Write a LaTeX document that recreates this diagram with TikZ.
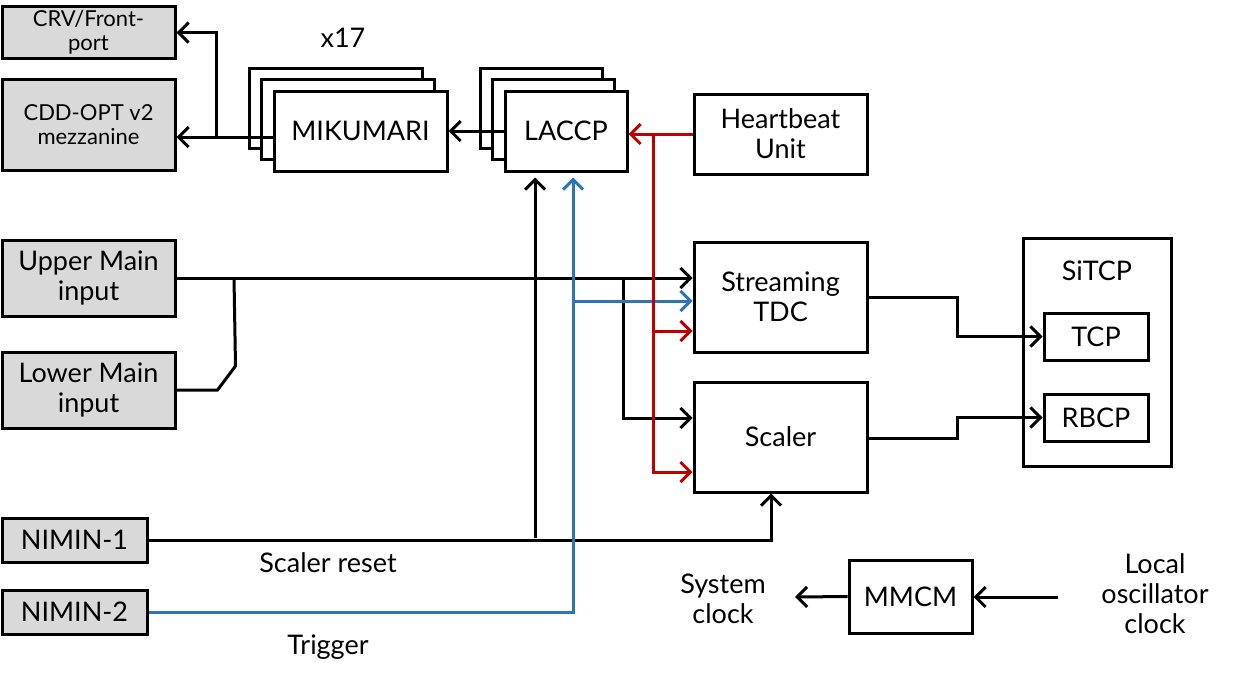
\documentclass[tikz,border=0pt]{standalone}
\usepackage{fontspec}
\setmainfont{Lato}
\usepackage{tikz}
\usetikzlibrary{positioning,arrows.meta,shadows}
\definecolor{inbg}{HTML}{D9D9D9}
\definecolor{hbred}{HTML}{C00000}
\definecolor{trgblue}{HTML}{2E75B6}

\begin{document}
\begin{tikzpicture}[x=0.5pt,y=-0.5pt,
      font=\fontsize{13.5}{15}\selectfont,
      blk/.style={draw,line width=1.5pt,fill=white,align=center,inner sep=2pt},
      io/.style={blk,fill=inbg},
      stack/.style={blk,double copy shadow={shadow xshift=-6.25pt,shadow yshift=5.75pt,fill=white,draw=black,line width=1.5pt}},
      smalltxt/.style={font=\fontsize{11}{12}\selectfont},
      line/.style={line width=1.5pt},
      arr/.style={-{Straight Barb[length=5pt,width=10pt]},line width=1.5pt}
    ]
      \useasboundingbox (0,0) rectangle (1246,681);

      \node[io,smalltxt,minimum width=86.5pt,minimum height=25.5pt] (crv) at (88.5,32.5) {CRV/Front-\\port};
      \node[io,smalltxt,minimum width=86.5pt,minimum height=45.5pt] (cdd) at (88.5,124.5) {CDD-OPT v2\\mezzanine};
      \node[stack,minimum width=86.5pt,minimum height=40pt] (miku) at (360.5,131) {MIKUMARI};
      \node (mult) at (343,38) {x17};
      \node[stack,minimum width=61pt,minimum height=40pt] (laccp) at (566,131) {LACCP};
      \node[blk,minimum width=86.5pt,minimum height=40pt] (hb) at (780.5,134) {Heartbeat\\Unit};
      \node[blk,minimum width=86.5pt,minimum height=55pt] (tdc) at (780.5,297) {Streaming\\TDC};
      \node[blk,minimum width=86.5pt,minimum height=55pt] (scaler) at (780.5,437) {Scaler};
      \node[blk,minimum width=74pt,minimum height=114pt] (sitcp) at (1097,352) {};
      \node (sitcplbl) at (1097,271) {SiTCP};
      \node[blk,minimum width=52pt,minimum height=23.5pt] (tcp) at (1096,336.5) {TCP};
      \node[blk,minimum width=52pt,minimum height=23.5pt] (rbcp) at (1096,417.5) {RBCP};
      \node[io,minimum width=86.5pt,minimum height=38pt] (upper) at (88.5,278) {Upper Main\\input};
      \node[io,minimum width=86.5pt,minimum height=38pt] (lower) at (88.5,390) {Lower Main\\input};
      \node[io,minimum width=72.5pt,minimum height=22pt] (nim1) at (74.5,540) {NIMIN-1};
      \node[io,minimum width=72.5pt,minimum height=22pt] (nim2) at (74.5,612) {NIMIN-2};
      \node[blk,minimum width=61.5pt,minimum height=36.5pt] (mmcm) at (910.5,596.5) {MMCM};
      \node (screset) at (328,563) {Scaler reset};
      \node (trig) at (328,647) {Trigger};
      \node[align=center] (sysclk) at (723,599) {System\\clock};
      \node[align=center] (losc) at (1155,594) {Local\\oscillator\\clock};

      \coordinate (mikusplit) at (216,137);
      \coordinate (hbsplit) at (653,134);
      \coordinate (mainsplit) at (623,278);
      \coordinate (mainjoin) at (234,278);
      \coordinate (trgsplit) at (573,301);
      \coordinate (rstsplit) at (535,538);
      \coordinate (sysout) at (795,597);
      \coordinate (oscin) at (1058,597);

      \draw[arr] ([yshift=-3pt]miku.west) -- ([yshift=-3pt]miku.west -| cdd.east);
      \draw[arr] (mikusplit) |- (crv.east);
      \draw[arr] (laccp.west) -- (miku.east);

      \draw[arr] (upper.east) -- (upper.east -| tdc.west);
      \draw[arr] (mainsplit) |- ([yshift=9.5pt]scaler.west);
      \draw[line] (lower.east) -- ++(41,0) -- ++(18,-24) -- (mainjoin);

      \draw[arr] (nim1.east) -| ([xshift=-4.75pt]scaler.south);
      \draw[arr] (rstsplit) -- ([xshift=-15.5pt,yshift=-2.5pt]laccp.south);

      \draw[arr,trgblue] (nim2.east) -| ([xshift=3.5pt,yshift=-2.5pt]laccp.south);
      \draw[arr,trgblue] (trgsplit) -- (trgsplit -| tdc.west);

      \draw[arr,hbred] (hb.west) -- (hb.west -| laccp.east);
      \draw[arr,hbred] (hbsplit) |- ([yshift=-17pt]tdc.west);
      \draw[arr,hbred] (hbsplit) |- ([yshift=-17.5pt]scaler.west);

      \draw[arr] (tdc.east) -- ++(89,0) |- (tcp.west);
      \draw[arr] ([yshift=-0.5pt]scaler.east) -- ++(89,0) |- (rbcp.west);

      \draw[arr] (mmcm.west) -- (sysout);
      \draw[arr] (oscin) -- (oscin -| mmcm.east);
    \end{tikzpicture}
\end{document}
